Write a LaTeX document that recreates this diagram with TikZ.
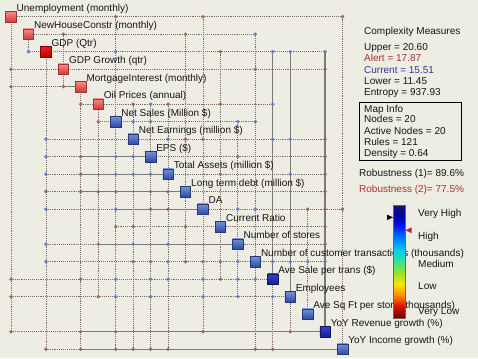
\documentclass[tikz,border=0pt]{standalone}
\usepackage{fontspec}
\setmainfont{Liberation Sans}
\definecolor{bg}{RGB}{238,237,227}
\definecolor{gridc}{RGB}{125,108,98}
\definecolor{solidc}{RGB}{125,122,118}
\definecolor{dbr}{RGB}{150,105,95}
\definecolor{dbl}{RGB}{95,125,205}
\definecolor{txt}{RGB}{20,20,20}
\definecolor{alertc}{RGB}{175,45,45}
\definecolor{currc}{RGB}{60,50,150}
\definecolor{rtop}{RGB}{245,140,140}\definecolor{rbot}{RGB}{212,55,55}\definecolor{rdraw}{RGB}{165,50,50}
\definecolor{gtop}{RGB}{240,30,30}\definecolor{gbot}{RGB}{190,0,0}\definecolor{gdraw}{RGB}{130,0,0}
\definecolor{btop}{RGB}{115,145,215}\definecolor{bbot}{RGB}{45,75,165}\definecolor{bdraw}{RGB}{40,55,120}
\definecolor{dtop}{RGB}{55,65,205}\definecolor{dbot}{RGB}{20,30,150}\definecolor{ddraw}{RGB}{20,20,100}
\definecolor{cb0}{RGB}{20,20,110}
\definecolor{cb1}{RGB}{0,0,170}
\definecolor{cb2}{RGB}{0,20,240}
\definecolor{cb3}{RGB}{0,110,255}
\definecolor{cb4}{RGB}{0,210,235}
\definecolor{cb5}{RGB}{60,225,150}
\definecolor{cb6}{RGB}{150,225,40}
\definecolor{cb7}{RGB}{245,230,0}
\definecolor{cb8}{RGB}{255,140,0}
\definecolor{cb9}{RGB}{230,20,0}
\definecolor{cb10}{RGB}{110,0,0}
\tikzset{
  gridline/.style={draw=gridc, line width=0.75pt, dash pattern=on 0.9pt off 1.0pt},
  solidline/.style={draw=solidc, line width=1.3pt},
  sq/.style={minimum size=10.5pt, inner sep=0pt, line width=0.6pt},
  rsq/.style={sq, draw=rdraw, top color=rtop, bottom color=rbot},
  gsq/.style={sq, draw=gdraw, top color=gtop, bottom color=gbot},
  bsq/.style={sq, draw=bdraw, top color=btop, bottom color=bbot},
  dsq/.style={sq, draw=ddraw, top color=dtop, bottom color=dbot},
  lbl/.style={anchor=base west, inner sep=0pt, text=txt, xshift=5.5pt, yshift=5.5pt},
  ptxt/.style={anchor=base west, inner sep=0pt, text=txt},
}
\begin{document}
\begin{tikzpicture}[x=1pt,y=-1pt, font=\fontsize{10}{12}\selectfont]
\fill[bg] (0,0) rectangle (478,358);
\useasboundingbox (0,0) rectangle (478,358);
\foreach \i in {1,...,20} \coordinate (p\i) at ({11+17.45*(\i-1)},{16.7+17.5*(\i-1)});
% row lines
\foreach \r/\a/\b in {1/1/20,2/2/15,3/2/19,4/1/19,5/1/5,6/5/16,7/6/15,8/3/19,9/3/19,10/3/19,11/3/19,12/3/20,13/7/19,14/3/19,15/3/19,16/1/16,17/1/17,19/1/19,20/3/20}
  \draw[gridline] (p\a |- p\r) -- (p\b |- p\r);
% column lines
\foreach \c/\a/\b in {1/1/19,2/2/3,3/3/20,4/2/5,5/5/20,6/6/17,7/1/20,8/6/20,9/6/20,10/6/20,11/2/15,12/1/19,13/3/16,14/7/17,15/2/20,16/3/20,17/3/19,18/12/18,19/3/19,20/1/20}
  \draw[gridline] (p\c |- p\a) -- (p\c |- p\b);
% solid segments
\foreach \r/\a/\b in {5/4/5,9/5/9,10/5/10,11/5/11,12/7/12,14/6/14,19/5/19,20/5/20}
  \draw[solidline] (p\a |- p\r) -- (p\b |- p\r);
\foreach \c/\a/\b in {16/3/16,17/3/17,19/3/19}
  \draw[solidline] (p\c |- p\a) -- (p\c |- p\b);
% dots
\foreach \r/\c/\col in {1/7/dbr,1/12/dbr,1/20/dbr,
 2/4/dbr,2/11/dbr,2/15/dbl,
 3/2/dbl,3/7/dbl,3/13/dbr,3/16/dbl,3/17/dbl,3/19/dbl,
 4/1/dbr,4/15/dbr,4/19/dbr,
 5/1/dbr,5/4/dbr,
 6/5/dbr,6/8/dbr,6/9/dbl,6/10/dbr,6/13/dbr,6/16/dbl,
 7/6/dbr,7/8/dbl,7/9/dbl,7/14/dbl,7/15/dbl,
 8/3/dbl,8/10/dbl,8/11/dbr,8/12/dbr,8/16/dbl,8/17/dbl,8/19/dbr,
 9/3/dbl,9/5/dbr,9/7/dbl,9/8/dbl,9/14/dbr,9/19/dbr,
 10/3/dbl,10/5/dbr,10/7/dbl,10/8/dbl,10/9/dbl,10/13/dbr,10/17/dbl,10/19/dbr,
 11/3/dbr,11/5/dbr,11/6/dbr,11/7/dbr,11/9/dbr,11/10/dbr,11/19/dbr,
 12/3/dbl,12/7/dbl,12/9/dbr,12/10/dbr,12/14/dbl,12/15/dbl,12/18/dbr,12/19/dbr,12/20/dbr,
 13/7/dbr,13/8/dbr,13/11/dbr,13/19/dbr,
 14/3/dbl,14/6/dbr,14/8/dbl,14/10/dbl,14/19/dbr,
 15/3/dbl,15/8/dbr,15/9/dbr,15/10/dbl,15/11/dbr,15/12/dbr,15/13/dbr,15/14/dbl,15/16/dbl,15/17/dbl,15/18/dbl,15/19/dbl,
 16/1/dbr,16/5/dbr,16/7/dbl,16/9/dbl,16/10/dbl,16/12/dbl,16/13/dbr,16/14/dbl,16/15/dbl,
 17/1/dbr,17/6/dbr,17/7/dbl,17/9/dbl,17/12/dbl,17/14/dbl,17/16/dbl,
 19/1/dbr,19/5/dbr,19/7/dbr,19/12/dbr,19/17/dbr,
 20/3/dbr,20/5/dbr,20/7/dbr,20/8/dbr,20/9/dbr,20/10/dbr,20/15/dbr,20/16/dbr}
  \fill[\col] (p\c |- p\r) circle (1.9);
% nodes
\foreach \i/\s in {1/rsq,2/rsq,3/gsq,4/rsq,5/rsq,6/rsq,7/bsq,8/bsq,9/bsq,10/bsq,11/bsq,12/bsq,13/bsq,14/bsq,15/bsq,16/dsq,17/bsq,18/bsq,19/dsq,20/bsq}
  \node[\s] (n\i) at (p\i) {};
% labels
\foreach \i/\t in {1/Unemployment (monthly),2/NewHouseConstr (monthly),3/GDP (Qtr),4/GDP Growth (qtr),5/MortgageInterest (monthly),6/Oil Prices (annual),7/Net Sales (Million \$),8/Net Earnings (million \$),9/EPS (\$),10/Total Assets (million \$),11/Long term debt (million \$),12/DA,13/Current Ratio,14/Number of stores,15/Number of customer transactions (thousands),16/Ave Sale per trans (\$),17/Employees,18/Ave Sq Ft per store (thousands),19/YoY Revenue growth (\%),20/YoY Income growth (\%)}
  \node[lbl] (l\i) at (n\i.center) {\t};
% right panel
\node[ptxt] (cm) at (364,35) {Complexity Measures};
\node[ptxt] (up) at (364,50.6) {Upper = 20.60};
\node[ptxt, text=alertc] (al) at (364,61.8) {Alert = 17.87};
\node[ptxt, text=currc] (cu) at (364,73.4) {Current = 15.51};
\node[ptxt] (lo) at (364,84.2) {Lower = 11.45};
\node[ptxt] (en) at (364,95.2) {Entropy = 937.93};
\draw[black, line width=0.8pt] (359.5,102) rectangle (461,160.7);
\node[ptxt] (mi) at (364,112.2) {Map Info};
\node[ptxt] (nn) at (364,122.9) {Nodes = 20};
\node[ptxt] (an) at (364,134.2) {Active Nodes = 20};
\node[ptxt] (ru) at (364,145.2) {Rules = 121};
\node[ptxt] (de) at (364,156.8) {Density = 0.64};
\node[ptxt] (r1) at (359,176.9) {Robustness (1)= 89.6\%};
\node[ptxt, text=alertc] (r2) at (359,192.5) {Robustness (2)= 77.5\%};
% colour bar
\foreach \k/\fa/\fb in {0/0/0.10,1/0.10/0.18,2/0.18/0.28,3/0.28/0.40,4/0.40/0.50,5/0.50/0.60,6/0.60/0.70,7/0.70/0.80,8/0.80/0.89,9/0.89/1.0}{
  \pgfmathtruncatemacro{\kn}{\k+1}
  \shade[top color=cb\k, bottom color=cb\kn] (393.3,{205.3+112.7*\fa-0.2}) rectangle (404.7,{205.3+112.7*\fb+0.2});
}
\draw[black!60, line width=0.4pt] (393.3,205.3) rectangle (404.7,318);
\fill[black] (387,214.6) -- (393,217.4) -- (387,220.2) -- cycle;
\fill[alertc] (411.7,227.3) -- (405.5,230.3) -- (411.7,233.3) -- cycle;
\node[ptxt] (vh) at (418,216.6) {Very High};
\node[ptxt] (hi) at (418,239.8) {High};
\node[ptxt] (me) at (418,267.5) {Medium};
\node[ptxt] (lw) at (418,289.8) {Low};
\node[ptxt] (vl) at (418,314.2) {Very Low};
\end{tikzpicture}
\end{document}
